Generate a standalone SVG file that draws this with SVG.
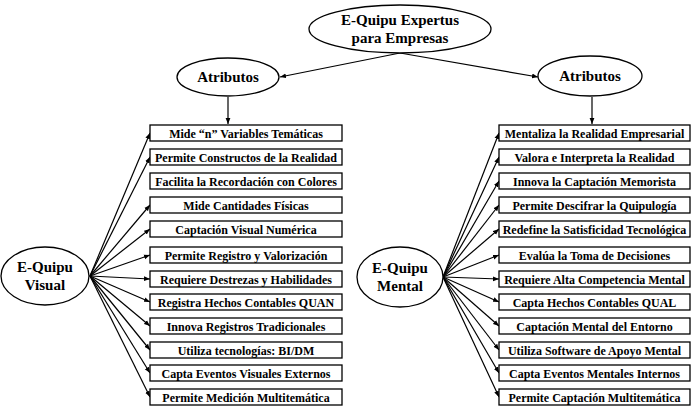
<svg xmlns="http://www.w3.org/2000/svg" width="700" height="413" viewBox="0 0 700 413">
<defs>
<marker id="ah" viewBox="0 0 10 10" refX="10" refY="5" markerWidth="6" markerHeight="6" orient="auto" markerUnits="userSpaceOnUse"><path d="M0,1 L10,5 L0,9 z" fill="#000"/></marker>
</defs>
<style>
.n{fill:#fff;stroke:#000;stroke-width:1.3}
.b{fill:#fff;stroke:#000;stroke-width:1.3}
text{font-family:'Liberation Serif','Times New Roman','DejaVu Serif',serif;font-weight:bold;text-anchor:middle;fill:#000}
.t{font-size:12px}
.e{font-size:15px}
.c line{stroke:#000;stroke-width:1.2;marker-end:url(#ah)}
</style>
<rect width="700" height="413" fill="#fff"/>
<g class="c">
<line x1="400" y1="53" x2="280" y2="77"/>
<line x1="400" y1="53" x2="538" y2="77"/>
<line x1="228" y1="97" x2="228" y2="124"/>
<line x1="592" y1="97" x2="592" y2="124"/>
<line x1="90" y1="276" x2="150" y2="133"/>
<line x1="90" y1="276" x2="150" y2="157"/>
<line x1="90" y1="276" x2="150" y2="205"/>
<line x1="90" y1="276" x2="150" y2="229"/>
<line x1="90" y1="276" x2="150" y2="255"/>
<line x1="90" y1="276" x2="150" y2="279"/>
<line x1="90" y1="276" x2="150" y2="302"/>
<line x1="90" y1="276" x2="150" y2="326"/>
<line x1="90" y1="276" x2="150" y2="350"/>
<line x1="90" y1="276" x2="150" y2="373"/>
<line x1="90" y1="276" x2="150" y2="397"/>
<line x1="443" y1="277" x2="499" y2="133"/>
<line x1="443" y1="277" x2="499" y2="157"/>
<line x1="443" y1="277" x2="499" y2="181"/>
<line x1="443" y1="277" x2="499" y2="205"/>
<line x1="443" y1="277" x2="499" y2="229"/>
<line x1="443" y1="277" x2="499" y2="255"/>
<line x1="443" y1="277" x2="499" y2="279"/>
<line x1="443" y1="277" x2="499" y2="302"/>
<line x1="443" y1="277" x2="499" y2="326"/>
<line x1="443" y1="277" x2="499" y2="350"/>
<line x1="443" y1="277" x2="499" y2="373"/>
<line x1="443" y1="277" x2="499" y2="397"/>
</g>
<g id="top"><ellipse class="n" cx="400" cy="29" rx="91" ry="24"/><text class="e" x="400" y="25">E-Quipu Expertus</text><text class="e" x="400" y="43">para Empresas</text></g>
<g id="atrL"><ellipse class="n" cx="228" cy="77" rx="51" ry="19"/><text class="e" x="228" y="82">Atributos</text></g>
<g id="atrR"><ellipse class="n" cx="590" cy="76" rx="52" ry="20"/><text class="e" x="590" y="81">Atributos</text></g>
<g id="visual"><ellipse class="n" cx="45" cy="276" rx="44" ry="29"/><text class="e" x="45" y="272">E-Quipu</text><text class="e" x="45" y="290">Visual</text></g>
<g id="mental"><ellipse class="n" cx="400" cy="277" rx="43" ry="30"/><text class="e" x="400" y="273">E-Quipu</text><text class="e" x="400" y="291">Mental</text></g>
<g id="L1"><rect class="b" x="150" y="125" width="192" height="16"/><text class="t" x="246" y="137.5">Mide “n” Variables Temáticas</text></g>
<g id="L2"><rect class="b" x="150" y="149" width="192" height="16"/><text class="t" x="246" y="161.5">Permite Constructos de la Realidad</text></g>
<g id="L3"><rect class="b" x="150" y="173" width="192" height="16"/><text class="t" x="246" y="185.5">Facilita la Recordación con Colores</text></g>
<g id="L4"><rect class="b" x="150" y="197" width="192" height="16"/><text class="t" x="246" y="209.5">Mide Cantidades Físicas</text></g>
<g id="L5"><rect class="b" x="150" y="221" width="192" height="16"/><text class="t" x="246" y="233.5">Captación Visual Numérica</text></g>
<g id="L6"><rect class="b" x="150" y="247" width="192" height="16"/><text class="t" x="246" y="259.5">Permite Registro y Valorización</text></g>
<g id="L7"><rect class="b" x="150" y="271" width="192" height="16"/><text class="t" x="246" y="283.5">Requiere Destrezas y Habilidades</text></g>
<g id="L8"><rect class="b" x="150" y="294" width="192" height="16"/><text class="t" x="246" y="306.5">Registra Hechos Contables QUAN</text></g>
<g id="L9"><rect class="b" x="150" y="318" width="192" height="16"/><text class="t" x="246" y="330.5">Innova Registros Tradicionales</text></g>
<g id="L10"><rect class="b" x="150" y="342" width="192" height="16"/><text class="t" x="246" y="354.5">Utiliza tecnologías: BI/DM</text></g>
<g id="L11"><rect class="b" x="150" y="365" width="192" height="16"/><text class="t" x="246" y="377.5">Capta Eventos Visuales Externos</text></g>
<g id="L12"><rect class="b" x="150" y="389" width="192" height="16"/><text class="t" x="246" y="401.5">Permite Medición Multitemática</text></g>
<g id="R1"><rect class="b" x="499" y="125" width="191" height="16"/><text class="t" x="594.5" y="137.5">Mentaliza la Realidad Empresarial</text></g>
<g id="R2"><rect class="b" x="499" y="149" width="191" height="16"/><text class="t" x="594.5" y="161.5">Valora e Interpreta la Realidad</text></g>
<g id="R3"><rect class="b" x="499" y="173" width="191" height="16"/><text class="t" x="594.5" y="185.5">Innova la Captación Memorista</text></g>
<g id="R4"><rect class="b" x="499" y="197" width="191" height="16"/><text class="t" x="594.5" y="209.5">Permite Descifrar la Quipulogía</text></g>
<g id="R5"><rect class="b" x="499" y="221" width="191" height="16"/><text class="t" x="594.5" y="233.5">Redefine la Satisficidad Tecnológica</text></g>
<g id="R6"><rect class="b" x="499" y="247" width="191" height="16"/><text class="t" x="594.5" y="259.5">Evalúa la Toma de Decisiones</text></g>
<g id="R7"><rect class="b" x="499" y="271" width="191" height="16"/><text class="t" x="594.5" y="283.5">Requiere Alta Competencia Mental</text></g>
<g id="R8"><rect class="b" x="499" y="294" width="191" height="16"/><text class="t" x="594.5" y="306.5">Capta Hechos Contables QUAL</text></g>
<g id="R9"><rect class="b" x="499" y="318" width="191" height="16"/><text class="t" x="594.5" y="330.5">Captación Mental del Entorno</text></g>
<g id="R10"><rect class="b" x="499" y="342" width="191" height="16"/><text class="t" x="594.5" y="354.5">Utiliza Software de Apoyo Mental</text></g>
<g id="R11"><rect class="b" x="499" y="365" width="191" height="16"/><text class="t" x="594.5" y="377.5">Capta Eventos Mentales Internos</text></g>
<g id="R12"><rect class="b" x="499" y="389" width="191" height="16"/><text class="t" x="594.5" y="401.5">Permite Captación Multitemática</text></g>
</svg>
